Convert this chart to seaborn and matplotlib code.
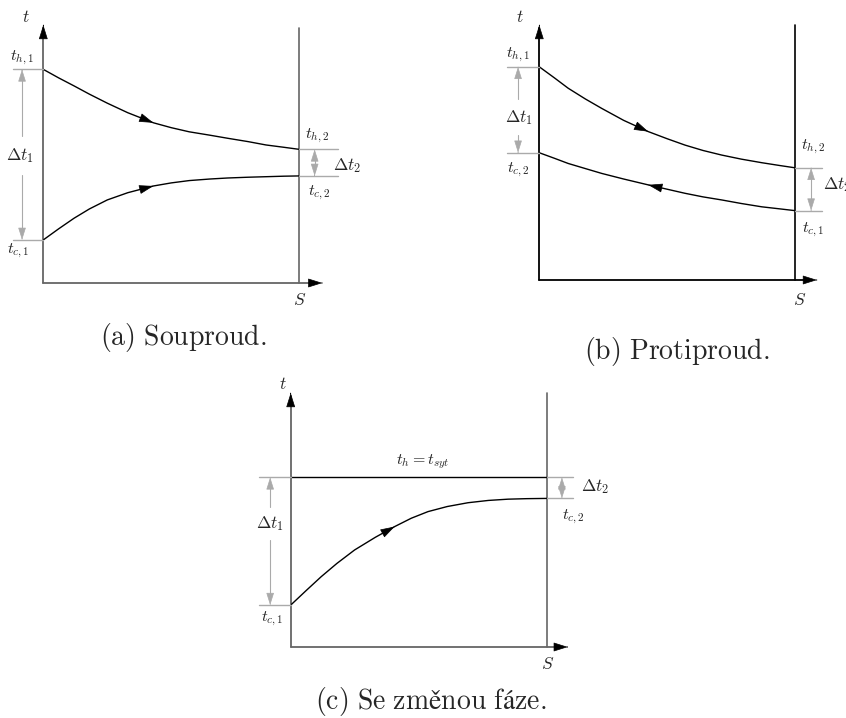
import numpy as np
import matplotlib
matplotlib.use("Agg")
import matplotlib.pyplot as plt
import seaborn as sns

# values (S = 0..1 along the exchanger, t = 0..100 up the axis)
S_a = [0, 0.06, 0.12, 0.18, 0.25, 0.33, 0.43, 0.5, 0.57, 0.65, 0.72, 0.8, 0.87, 0.94, 1.0]
hot_a = [82.8, 79.5, 76.4, 73.2, 69.7, 66.0, 62.1, 60.2, 58.6, 57.3, 56.1, 54.8, 53.5, 52.6, 51.8]
cold_a = [16.7, 21.0, 25.1, 28.7, 32.2, 35.0, 37.6, 38.8, 39.7, 40.3, 40.7, 41.0, 41.2, 41.4, 41.5]

S_b = [0, 0.06, 0.113, 0.18, 0.244, 0.33, 0.426, 0.5, 0.57, 0.64, 0.713, 0.79, 0.87, 0.94, 1.0]
hot_b = [83.6, 79.2, 75.2, 71.0, 67.3, 62.6, 58.2, 55.4, 52.9, 50.8, 49.0, 47.4, 46.0, 44.9, 44.0]
cold_b = [49.9, 47.7, 45.7, 43.7, 41.8, 39.6, 37.3, 35.6, 34.0, 32.6, 31.4, 30.0, 28.7, 27.9, 27.2]

S_c = [0, 0.06, 0.119, 0.18, 0.249, 0.33, 0.405, 0.47, 0.535, 0.61, 0.691, 0.77, 0.847, 0.92, 1.0]
hot_c = [66.8, 66.8]
cold_c = [16.5, 22.2, 27.7, 32.9, 38.2, 43.2, 47.4, 50.7, 53.3, 55.3, 56.8, 57.7, 58.2, 58.4, 58.5]

captions = [r"$\mathrm{(a)\ Souproud.}$", r"$\mathrm{(b)\ Protiproud.}$",
            r"$\mathrm{(c)\ Se\ změnou\ fáze.}$"]

sns.set_theme(style="white")
plt.rcParams["mathtext.fontset"] = "cm"
plt.rcParams["font.family"] = ["DejaVu Serif"]

W, H = 846, 718
GRAY = "#aaaaaa"
fig = plt.figure(figsize=(W / 100, H / 100), dpi=100)


def panel_ax(x0, y0, x1, ytop):
    ax = fig.add_axes([x0 / W, 1 - y0 / H, (x1 - x0) / W, (y0 - ytop) / H])
    ax.set_xlim(0, 1)
    ax.set_ylim(0, 100)
    ax.axis("off")
    return ax


def head(ax, x, y, i, step=1, color="black", ms=13):
    # arrow head on a curve at point i, pointing from point i-step
    x0, y0 = x[i - step], y[i - step]
    x1, y1 = x[i], y[i]
    xt = (x1 - 0.02 * (x1 - x0), y1 - 0.02 * (y1 - y0))
    ax.annotate("", xy=(x1, y1), xytext=xt,
                arrowprops=dict(arrowstyle="-|>,head_length=0.7,head_width=0.22",
                                color=color, lw=0.5, shrinkA=0, shrinkB=0,
                                mutation_scale=ms), annotation_clip=False)


def frame(ax, axcol, xtip, rtop):
    ax.plot([0, 0], [0, 99], color=axcol, lw=1.3, clip_on=False)
    ax.plot([0, xtip - 0.03], [0, 0], color=axcol, lw=1.3, clip_on=False)
    ax.plot([1, 1], [0, rtop], color=axcol, lw=1.2, clip_on=False)
    head(ax, [0, 0], [95, 100], 1)
    head(ax, [xtip - 0.05, xtip], [0, 0], 1)


def delta(ax, xs, x0, x1, ylo, yhi, gap_lo, gap_hi):
    for yy in (ylo, yhi):
        ax.plot([x0, x1], [yy, yy], color=GRAY, lw=1.0, clip_on=False)
    head(ax, [xs, xs], [gap_hi, yhi], 1, color=GRAY, ms=11)
    head(ax, [xs, xs], [gap_lo, ylo], 1, color=GRAY, ms=11)
    ax.plot([xs, xs], [gap_hi, yhi - 2], color=GRAY, lw=0.8, clip_on=False)
    ax.plot([xs, xs], [gap_lo, ylo + 2], color=GRAY, lw=0.8, clip_on=False)


small = dict(fontsize=11.5, ha="center", va="center")
mid = dict(fontsize=12.5, va="center")


def mid_of(lo, hi):
    return (lo + hi) / 2


# (a) co-current
ax = panel_ax(43.3, 283, 299.3, 25)
frame(ax, "#666666", 1.09, 99)
sns.lineplot(x=S_a, y=hot_a, ax=ax, color="black", lw=1, sort=False)
sns.lineplot(x=S_a, y=cold_a, ax=ax, color="black", lw=1, sort=False)
head(ax, S_a, hot_a, 6)
head(ax, S_a, cold_a, 6)
delta(ax, -0.083, -0.12, 0, cold_a[0], hot_a[0], 42, 57)
m = mid_of(cold_a[-1], hot_a[-1])
delta(ax, 1.06, 1.0, 1.15, cold_a[-1], hot_a[-1], m, m)
ax.text(-0.083, 87.2, r"$t_{h,1}$", **small)
ax.text(-0.1, 12.6, r"$t_{c,1}$", **small)
ax.text(-0.09, 49.6, r"$\Delta t_1$", ha="center", **mid)
ax.text(1.07, 57.2, r"$t_{h,2}$", **small)
ax.text(1.08, 35.0, r"$t_{c,2}$", **small)
ax.text(1.13, 45.5, r"$\Delta t_2$", ha="left", **mid)
ax.text(-0.07, 103, r"$t$", ha="center", **mid)
ax.text(1.0, -6.8, r"$S$", ha="center", **mid)

# (b) counter-current
ax = panel_ax(539.3, 280, 795, 25)
frame(ax, "black", 1.086, 100)
sns.lineplot(x=S_b, y=hot_b, ax=ax, color="black", lw=1, sort=False)
sns.lineplot(x=S_b, y=cold_b, ax=ax, color="black", lw=1, sort=False)
head(ax, S_b, hot_b, 6)
head(ax, S_b, cold_b, 6, step=-1)
delta(ax, -0.083, -0.125, 0, cold_b[0], hot_b[0], 57, 71)
m = mid_of(cold_b[-1], hot_b[-1])
delta(ax, 1.063, 1.0, 1.105, cold_b[-1], hot_b[-1], m, m)
ax.text(-0.083, 88.2, r"$t_{h,1}$", **small)
ax.text(-0.083, 43.2, r"$t_{c,2}$", **small)
ax.text(-0.078, 63.9, r"$\Delta t_1$", ha="center", **mid)
ax.text(1.07, 52.4, r"$t_{h,2}$", **small)
ax.text(1.07, 19.8, r"$t_{c,1}$", **small)
ax.text(1.11, 37.3, r"$\Delta t_2$", ha="left", **mid)
ax.text(-0.075, 103, r"$t$", ha="center", **mid)
ax.text(1.02, -8.0, r"$S$", ha="center", **mid)

# (c) phase change
ax = panel_ax(290.7, 647, 547.3, 393)
frame(ax, "#666666", 1.08, 100)
sns.lineplot(x=[0, 1], y=hot_c, ax=ax, color="black", lw=1, sort=False)
sns.lineplot(x=S_c, y=cold_c, ax=ax, color="black", lw=1, sort=False)
head(ax, S_c, cold_c, 6)
delta(ax, -0.08, -0.125, 0, cold_c[0], hot_c[0], 42, 55)
m = mid_of(cold_c[-1], hot_c[-1])
delta(ax, 1.057, 1.0, 1.1, cold_c[-1], hot_c[-1], m, m)
ax.text(0.515, 72.8, r"$t_h = t_{syt}$", **small)
ax.text(-0.073, 11.2, r"$t_{c,1}$", **small)
ax.text(-0.08, 48.8, r"$\Delta t_1$", ha="center", **mid)
ax.text(1.1, 51.4, r"$t_{c,2}$", **small)
ax.text(1.13, 63.2, r"$\Delta t_2$", ha="left", **mid)
ax.text(-0.03, 103.5, r"$t$", ha="center", **mid)
ax.text(1.0, -7.0, r"$S$", ha="center", **mid)

# captions
for (cx, cy), cap in zip([(183, 337), (677, 352), (431, 702)], captions):
    fig.text(cx / W, 1 - cy / H, cap, fontsize=20, ha="center", va="center")

fig.savefig("out.png", dpi=100)
